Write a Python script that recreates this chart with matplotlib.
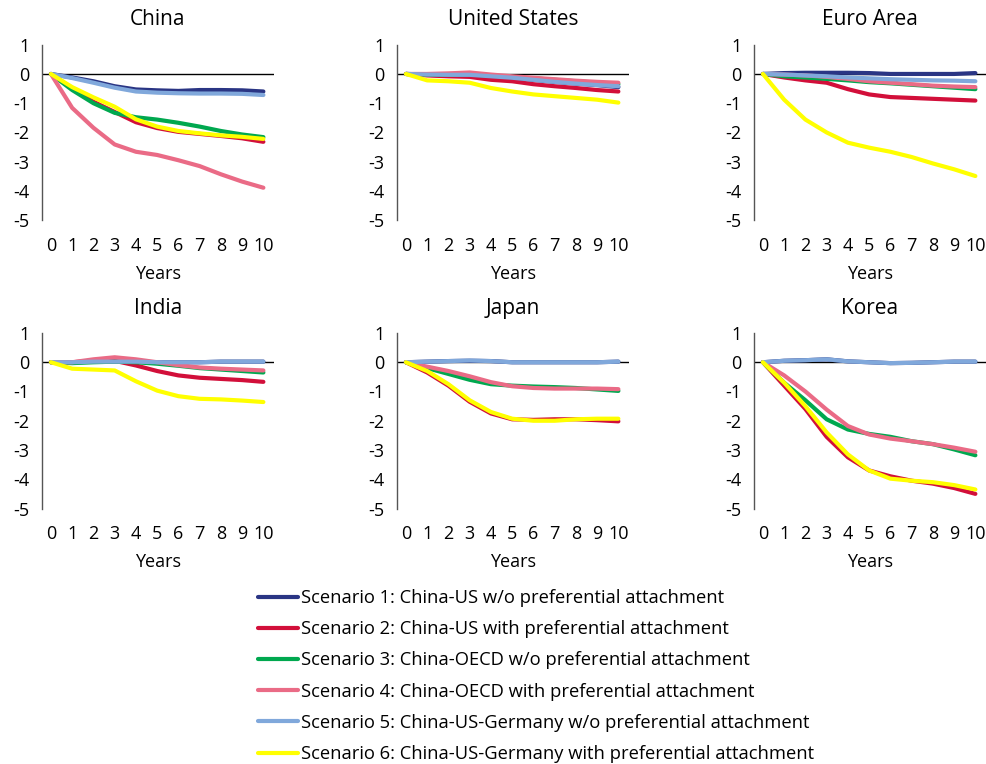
import matplotlib
matplotlib.use('Agg')
import matplotlib.pyplot as plt
import numpy as np

plt.rcParams['font.family'] = ['Open Sans', 'DejaVu Sans']
plt.rcParams['axes.unicode_minus'] = False

years = list(range(11))

regions = ['China', 'United States', 'Euro Area', 'India', 'Japan', 'Korea']

scenario_labels = [
    'Scenario 1: China-US w/o preferential attachment',
    'Scenario 2: China-US with preferential attachment',
    'Scenario 3: China-OECD w/o preferential attachment',
    'Scenario 4: China-OECD with preferential attachment',
    'Scenario 5: China-US-Germany w/o preferential attachment',
    'Scenario 6: China-US-Germany with preferential attachment',
]
scenario_colors = ['#2a3584', '#d20f3a', '#00a84f', '#ea6b86', '#80a8db', '#ffff00']

# values per region, one list per scenario (1..6)
china = [
    [0, -0.12, -0.25, -0.42, -0.53, -0.56, -0.58, -0.55, -0.55, -0.56, -0.60],
    [0, -0.50, -0.95, -1.30, -1.65, -1.85, -1.98, -2.05, -2.12, -2.20, -2.32],
    [0, -0.55, -1.00, -1.33, -1.48, -1.56, -1.67, -1.80, -1.95, -2.07, -2.16],
    [0, -1.16, -1.84, -2.41, -2.66, -2.77, -2.95, -3.15, -3.43, -3.68, -3.89],
    [0, -0.14, -0.30, -0.47, -0.60, -0.64, -0.66, -0.67, -0.67, -0.68, -0.72],
    [0, -0.45, -0.80, -1.12, -1.55, -1.80, -1.95, -2.03, -2.10, -2.15, -2.22],
]
united_states = [
    [0, -0.03, -0.05, -0.05, -0.10, -0.15, -0.20, -0.27, -0.33, -0.38, -0.45],
    [0, -0.05, -0.08, -0.10, -0.20, -0.25, -0.35, -0.42, -0.48, -0.55, -0.60],
    [0, -0.02, -0.03, -0.02, -0.06, -0.10, -0.15, -0.20, -0.25, -0.30, -0.35],
    [0, 0.00, 0.02, 0.05, -0.02, -0.08, -0.13, -0.18, -0.23, -0.27, -0.30],
    [0, -0.02, -0.03, -0.03, -0.08, -0.13, -0.20, -0.27, -0.33, -0.38, -0.42],
    [0, -0.22, -0.25, -0.30, -0.48, -0.60, -0.70, -0.76, -0.82, -0.88, -0.98],
]
euro_area = [
    [0, 0.03, 0.04, 0.04, 0.04, 0.03, 0.00, 0.00, 0.00, 0.00, 0.03],
    [0, -0.12, -0.22, -0.30, -0.52, -0.70, -0.79, -0.82, -0.85, -0.88, -0.91],
    [0, -0.08, -0.12, -0.17, -0.22, -0.28, -0.32, -0.37, -0.42, -0.47, -0.52],
    [0, -0.02, -0.05, -0.10, -0.17, -0.25, -0.30, -0.35, -0.40, -0.43, -0.45],
    [0, -0.02, -0.05, -0.08, -0.12, -0.15, -0.18, -0.20, -0.22, -0.23, -0.25],
    [0, -0.88, -1.56, -2.00, -2.35, -2.52, -2.66, -2.84, -3.06, -3.26, -3.49],
]
india = [
    [0, 0.00, 0.02, 0.02, 0.02, 0.00, 0.00, 0.00, 0.02, 0.02, 0.02],
    [0, 0.00, 0.05, 0.05, -0.11, -0.30, -0.45, -0.53, -0.57, -0.61, -0.67],
    [0, -0.03, 0.00, 0.02, 0.00, -0.05, -0.12, -0.20, -0.25, -0.30, -0.35],
    [0, 0.00, 0.10, 0.17, 0.10, 0.00, -0.10, -0.18, -0.22, -0.25, -0.28],
    [0, 0.00, 0.02, 0.02, 0.02, 0.00, 0.00, 0.00, 0.02, 0.02, 0.02],
    [0, -0.22, -0.25, -0.28, -0.65, -0.97, -1.16, -1.25, -1.27, -1.31, -1.36],
]
japan = [
    [0, 0.02, 0.04, 0.05, 0.04, 0.00, 0.00, 0.00, 0.00, 0.00, 0.02],
    [0, -0.35, -0.80, -1.35, -1.75, -1.95, -1.97, -1.95, -1.95, -1.98, -2.02],
    [0, -0.20, -0.40, -0.60, -0.75, -0.80, -0.83, -0.85, -0.88, -0.93, -0.98],
    [0, -0.15, -0.30, -0.48, -0.68, -0.82, -0.88, -0.90, -0.90, -0.90, -0.92],
    [0, 0.02, 0.04, 0.06, 0.04, 0.00, 0.00, 0.00, 0.00, 0.00, 0.02],
    [0, -0.30, -0.75, -1.30, -1.70, -1.93, -2.00, -2.00, -1.95, -1.93, -1.93],
]
korea = [
    [0, 0.05, 0.07, 0.10, 0.03, 0.00, -0.03, -0.02, 0.00, 0.02, 0.02],
    [0, -0.80, -1.60, -2.55, -3.25, -3.70, -3.90, -4.05, -4.15, -4.30, -4.50],
    [0, -0.70, -1.30, -1.95, -2.30, -2.45, -2.55, -2.70, -2.80, -2.98, -3.18],
    [0, -0.45, -1.00, -1.62, -2.18, -2.47, -2.61, -2.70, -2.80, -2.92, -3.06],
    [0, 0.05, 0.07, 0.10, 0.03, 0.00, -0.03, -0.02, 0.00, 0.02, 0.02],
    [0, -0.70, -1.50, -2.40, -3.15, -3.70, -3.98, -4.05, -4.10, -4.20, -4.35],
]
region_data = [china, united_states, euro_area, india, japan, korea]

W, H = 987, 764
fig = plt.figure(figsize=(W / 100, H / 100), dpi=100)

col_left = [42, 397, 754]
row_top = [44.7, 333]
ax_w, ax_h = 232, 175.5

handles = []
for i, (name, data) in enumerate(zip(regions, region_data)):
    r, c = divmod(i, 3)
    ax = fig.add_axes([col_left[c] / W, 1 - (row_top[r] + ax_h) / H, ax_w / W, ax_h / H])
    ax.axhline(0, color='black', linewidth=1.0, zorder=1)
    for k, series in enumerate(data):
        ln, = ax.plot(years, series, color=scenario_colors[k], linewidth=3.0,
                      solid_capstyle='round', solid_joinstyle='round', zorder=2 + k)
        if i == 0:
            handles.append(ln)
    ax.set_xlim(-0.42, 10.5)
    ax.set_ylim(-5, 1)
    ax.set_xticks(years)
    ax.set_yticks(range(-5, 2))
    ax.tick_params(length=0, labelsize=13)
    ax.tick_params(axis='x', pad=12)
    ax.tick_params(axis='y', pad=9)
    for s in ['top', 'right', 'bottom']:
        ax.spines[s].set_visible(False)
    ax.spines['left'].set_color('#555555')
    ax.spines['left'].set_linewidth(1.0)
    ax.set_xlabel('Years', fontsize=13, labelpad=7)
    ax.set_title(name, fontsize=15, fontweight='medium', pad=14)

fig.legend(handles, scenario_labels, loc='upper left',
           bbox_to_anchor=(258 / W, 1 - 589 / H), frameon=False,
           fontsize=13.2, handlelength=2.2, handletextpad=0.15,
           labelspacing=0.72, borderpad=0, borderaxespad=0)

plt.savefig('out.png', dpi=100)
plt.close()
